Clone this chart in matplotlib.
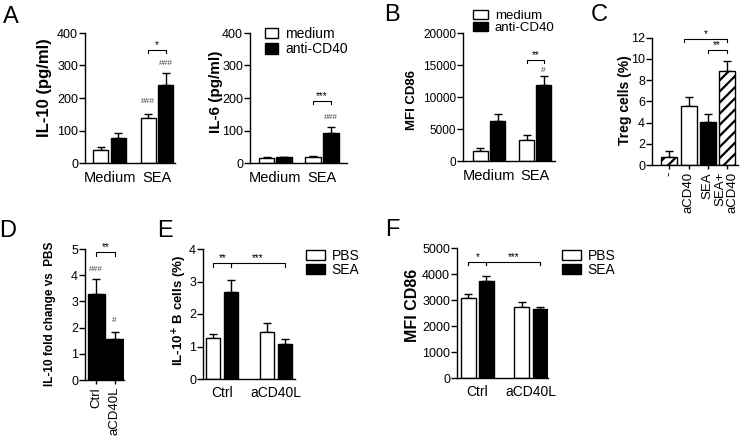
import numpy as np
import matplotlib.pyplot as plt

plt.rcParams['font.family'] = ['Liberation Sans', 'DejaVu Sans']
plt.rcParams['hatch.linewidth'] = 1.6
plt.rcParams['axes.linewidth'] = 1.0

W, H = 753, 436

# %% data
# A: IL-10 / IL-6 (pg/ml)
groups_a = ["Medium", "SEA"]
il10_medium = [40, 138]
il10_medium_err = [8, 14]
il10_cd40 = [76, 241]
il10_cd40_err = [16, 36]
il6_medium = [15, 19]
il6_medium_err = [2, 3]
il6_cd40 = [18, 92]
il6_cd40_err = [2, 18]

# B: MFI CD86
mfi_medium = [1600, 3230]
mfi_medium_err = [420, 830]
mfi_cd40 = [6250, 11950]
mfi_cd40_err = [1100, 1350]

# C: Treg cells (%)
treg_labels = ["-", "aCD40", "SEA", "SEA+\naCD40"]
treg = [0.8, 5.6, 4.1, 8.9]
treg_err = [0.5, 0.85, 0.7, 0.9]

# D: IL-10 fold change vs PBS
d_labels = ["Ctrl", "aCD40L"]
fold = [3.28, 1.58]
fold_err = [0.56, 0.24]

# E: IL-10+ B cells (%)
groups_e = ["Ctrl", "aCD40L"]
il10b_pbs = [1.25, 1.44]
il10b_pbs_err = [0.12, 0.28]
il10b_sea = [2.67, 1.09]
il10b_sea_err = [0.37, 0.13]

# F: MFI CD86
cd86_pbs = [3065, 2720]
cd86_pbs_err = [170, 190]
cd86_sea = [3740, 2650]
cd86_sea_err = [200, 95]

fig = plt.figure(figsize=(W / 100, H / 100), dpi=100)


def make_ax(x0, x1, ytop, ybot, ticksize=9):
    ax = fig.add_axes([x0 / W, 1 - ybot / H, (x1 - x0) / W, (ybot - ytop) / H])
    ax.spines[['top', 'right']].set_visible(False)
    ax.tick_params(direction='out', length=4, width=1, labelsize=ticksize, pad=1)
    return ax


def bars(ax, x, vals, errs, face, hatch=None, width=0.32):
    h = ax.bar(x, vals, width, color=face, edgecolor='black', linewidth=1,
               hatch=hatch, zorder=2)
    ax.errorbar(x, vals, yerr=[np.zeros(len(vals)), errs], fmt='none',
                ecolor='black', elinewidth=1, capsize=3, capthick=1, zorder=1)
    return h


def bracket(ax, x1, x2, y, text, drop, size=7):
    ax.plot([x1, x1, x2, x2], [y - drop, y, y, y - drop], color='black',
            lw=0.8, clip_on=False)
    ax.text((x1 + x2) / 2, y, text, ha='center', va='bottom', fontsize=size,
            clip_on=False)


def hashes(ax, x, y, text):
    ax.text(x, y, text, ha='center', va='center', fontsize=6, color='#444444',
            clip_on=False)


def cat_axis(ax, labels, x, size=10.5, pad=6):
    ax.set_xticks(x)
    ax.set_xticklabels(labels, fontsize=size)
    ax.tick_params(axis='x', length=0, pad=pad)


def ylab(x, y, text, size):
    fig.text(x / W, 1 - y / H, text, rotation=90, ha='center', va='center',
             fontsize=size, fontweight='bold')


def legend(ax, handles, labels, x, y, size=10, hl=1.0, hh=0.7, ls=0.1):
    ax.legend(handles, labels, loc='upper left', bbox_to_anchor=(x / W, 1 - y / H),
              bbox_transform=fig.transFigure, frameon=False, fontsize=size,
              handlelength=hl, handleheight=hh, handletextpad=0.5, borderpad=0,
              labelspacing=ls, borderaxespad=0)


xa = np.arange(2)

# A - IL-10
ax = make_ax(85, 175, 33, 163)
off, w = 0.185, 0.316
bars(ax, xa - off, il10_medium, il10_medium_err, 'white', width=w)
bars(ax, xa + off, il10_cd40, il10_cd40_err, 'black', width=w)
ax.set_xlim(-0.516, 1.379)
ax.set_ylim(0, 400)
ax.set_yticks([0, 100, 200, 300, 400])
cat_axis(ax, groups_a, xa)
hashes(ax, 1 - off, 188, '###')
hashes(ax, 1 + off, 307, '###')
bracket(ax, 1 - off, 1 + off, 348, '*', 10)
ylab(45, 88, 'IL-10 (pg/ml)', 12)

# A - IL-6
ax = make_ax(250, 347, 33, 163)
off, w = 0.187, 0.34
h1 = bars(ax, xa - off, il6_medium, il6_medium_err, 'white', width=w)
h2 = bars(ax, xa + off, il6_cd40, il6_cd40_err, 'black', width=w)
ax.set_xlim(-0.54, 1.535)
ax.set_ylim(0, 400)
ax.set_yticks([0, 100, 200, 300, 400])
cat_axis(ax, groups_a, xa)
hashes(ax, 1 + off, 140, '###')
bracket(ax, 1 - off, 1 + off, 190, '***', 10)
ylab(216, 92, 'IL-6 (pg/ml)', 11)
legend(ax, [h1, h2], ['medium', 'anti-CD40'], 265, 27, size=10, hl=0.95, hh=0.75)

# B - MFI CD86
ax = make_ax(463, 555, 33, 161, ticksize=8.5)
off, w = 0.184, 0.324
h1 = bars(ax, xa - off, mfi_medium, mfi_medium_err, 'white', width=w)
h2 = bars(ax, xa + off, mfi_cd40, mfi_cd40_err, 'black', width=w)
ax.set_xlim(-0.562, 1.427)
ax.set_ylim(0, 20000)
ax.set_yticks([0, 5000, 10000, 15000, 20000])
cat_axis(ax, groups_a, xa)
hashes(ax, 1 + off, 14200, '#')
bracket(ax, 1 - off, 1 + off, 15780, '**', 500)
ylab(412, 100, 'MFI CD86', 9.5)
legend(ax, [h1, h2], ['medium', 'anti-CD40'], 473, 10, size=9.5, hl=1.15, hh=0.7, ls=0.0)

# C - Treg cells
ax = make_ax(652, 738, 37.7, 165)
xc = np.arange(4)
faces = ['white', 'white', 'black', 'white']
hatches = ['///', None, None, '///']
for i in range(4):
    bars(ax, xc[i:i + 1], treg[i:i + 1], treg_err[i:i + 1], faces[i],
         hatch=hatches[i], width=0.84)
ax.set_xlim(-0.916, 3.59)
ax.set_ylim(0, 12)
ax.set_yticks(range(0, 13, 2))
ax.set_xticks(xc)
ax.set_xticklabels(treg_labels, rotation=90, fontsize=9.5, va='top',
                   ha='center', multialignment='right', linespacing=1.0)
ax.tick_params(axis='x', length=3, pad=2)
bracket(ax, 0.75, 3, 11.87, '*', 0.3)
bracket(ax, 2, 3, 10.85, '**', 0.3)
ylab(625, 100, 'Treg cells (%)', 10)

# D - IL-10 fold change
ax = make_ax(85, 124, 249, 380)
xd = np.arange(2)
bars(ax, xd, fold, fold_err, 'black', width=0.9)
ax.set_xlim(-0.61, 1.5)
ax.set_ylim(0, 5)
ax.set_yticks(range(0, 6))
ax.set_xticks(xd)
ax.set_xticklabels(d_labels, rotation=90, fontsize=9.5)
ax.tick_params(axis='x', length=3, pad=2)
hashes(ax, 0, 4.2, '###')
hashes(ax, 1, 2.26, '#')
bracket(ax, 0, 1, 4.87, '**', 0.15)
ylab(50, 314, 'IL-10 fold change vs  PBS', 8.5)

# E - IL-10+ B cells
ax = make_ax(203, 295, 249, 379)
off, w = 0.168, 0.27
h1 = bars(ax, xa - off, il10b_pbs, il10b_pbs_err, 'white', width=w)
h2 = bars(ax, xa + off, il10b_sea, il10b_sea_err, 'black', width=w)
ax.set_xlim(-0.36, 1.36)
ax.set_ylim(0, 4)
ax.set_yticks(range(0, 5))
cat_axis(ax, groups_e, xa, size=10, pad=5)
bracket(ax, -off, off, 3.56, '**', 0.1)
bracket(ax, off, 1 + off, 3.56, '***', 0.1)
ylab(180, 310, 'IL-10$^{\\mathbf{+}}$ B cells (%)', 9.5)
legend(ax, [h1, h2], ['PBS', 'SEA'], 306, 249, size=10, hl=1.35, hh=0.8, ls=0.0)

# F - MFI CD86
ax = make_ax(457, 548, 248, 378)
off, w = 0.171, 0.28
h1 = bars(ax, xa - off, cd86_pbs, cd86_pbs_err, 'white', width=w)
h2 = bars(ax, xa + off, cd86_sea, cd86_sea_err, 'black', width=w)
ax.set_xlim(-0.38, 1.32)
ax.set_ylim(0, 5000)
ax.set_yticks(range(0, 5001, 1000))
cat_axis(ax, groups_e, xa, size=10, pad=5)
bracket(ax, -off, off, 4450, '*', 120)
bracket(ax, off, 1 + off, 4450, '***', 120)
ylab(413, 305, 'MFI CD86', 11.5)
legend(ax, [h1, h2], ['PBS', 'SEA'], 562, 249, size=10, hl=1.35, hh=0.8, ls=0.0)

# panel letters
for letter, px, py in [('A', 11, 17), ('B', 392, 15), ('C', 599, 15),
                       ('D', 8, 231), ('E', 165, 231), ('F', 392, 230)]:
    fig.text(px / W, 1 - py / H, letter, ha='center', va='center', fontsize=17)

fig.savefig('out.png', dpi=100)
